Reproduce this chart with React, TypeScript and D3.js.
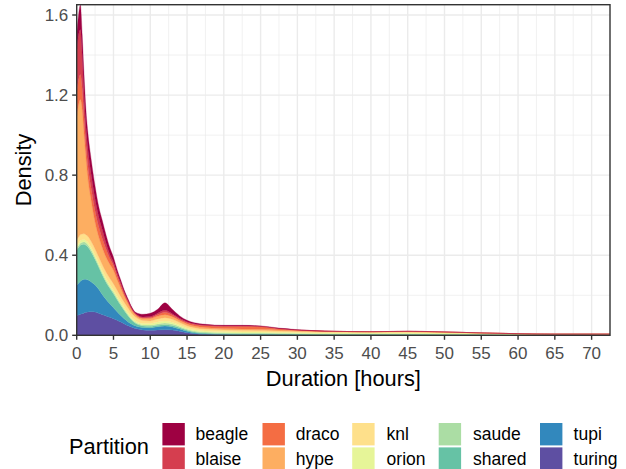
import * as d3 from "d3";

// Duration grid (hours) and densities per partition
const durations = [0, 0.25, 0.5, 0.75, 1, 1.25, 1.5, 2, 2.5, 3, 3.5, 4, 4.5, 5, 5.5, 6, 6.5, 7, 7.5, 8, 9, 10, 11, 12, 13, 14, 15, 16, 17.5, 20, 22.5, 25, 27.5, 30, 35, 40, 45, 50, 55, 60, 65, 70, 72.5];

const turing = [0.100, 0.102, 0.105, 0.108, 0.112, 0.115, 0.117, 0.118, 0.116, 0.110, 0.103, 0.097, 0.090, 0.083, 0.075, 0.066, 0.057, 0.048, 0.040, 0.034, 0.027, 0.025, 0.027, 0.028, 0.026, 0.020, 0.013, 0.008, 0.005, 0.003, 0.002, 0.002, 0.002, 0.002, 0.001, 0.001, 0.001, 0.001, 0.001, 0.001, 0.001, 0.001, 0.001];
const tupi = [0.150, 0.158, 0.165, 0.168, 0.168, 0.165, 0.160, 0.148, 0.135, 0.120, 0.100, 0.082, 0.068, 0.055, 0.043, 0.033, 0.025, 0.019, 0.015, 0.013, 0.012, 0.013, 0.016, 0.018, 0.016, 0.012, 0.007, 0.004, 0.003, 0.002, 0.002, 0.002, 0.002, 0.001, 0.001, 0.001, 0.001, 0.001, 0.001, 0.001, 0, 0, 0];
const shared = [0.175, 0.178, 0.180, 0.178, 0.175, 0.170, 0.165, 0.148, 0.128, 0.110, 0.097, 0.085, 0.077, 0.070, 0.060, 0.050, 0.040, 0.030, 0.020, 0.013, 0.008, 0.007, 0.007, 0.007, 0.007, 0.006, 0.005, 0.005, 0.004, 0.004, 0.004, 0.004, 0.003, 0.003, 0.003, 0.003, 0.003, 0.002, 0.002, 0.001, 0.001, 0.001, 0.001];
const saude = [0.010, 0.010, 0.011, 0.011, 0.012, 0.012, 0.012, 0.011, 0.010, 0.010, 0.009, 0.009, 0.008, 0.008, 0.007, 0.007, 0.006, 0.006, 0.005, 0.005, 0.005, 0.006, 0.007, 0.008, 0.007, 0.006, 0.005, 0.004, 0.004, 0.004, 0.003, 0.003, 0.003, 0.003, 0.003, 0.003, 0.003, 0.003, 0.002, 0.001, 0.001, 0.001, 0.001];
const orion = [0.012, 0.012, 0.012, 0.012, 0.012, 0.012, 0.012, 0.012, 0.012, 0.012, 0.012, 0.012, 0.012, 0.012, 0.012, 0.011, 0.011, 0.010, 0.009, 0.008, 0.008, 0.008, 0.009, 0.010, 0.009, 0.008, 0.007, 0.007, 0.006, 0.006, 0.006, 0.006, 0.005, 0.005, 0.005, 0.005, 0.005, 0.004, 0.003, 0.002, 0.002, 0.002, 0.002];
const knl = [0.030, 0.030, 0.030, 0.029, 0.028, 0.028, 0.029, 0.030, 0.030, 0.030, 0.030, 0.030, 0.030, 0.030, 0.028, 0.026, 0.024, 0.022, 0.020, 0.018, 0.014, 0.013, 0.015, 0.017, 0.015, 0.012, 0.011, 0.010, 0.009, 0.008, 0.008, 0.007, 0.006, 0.005, 0.004, 0.004, 0.004, 0.003, 0.002, 0.002, 0.001, 0.001, 0.001];
const hype = [0.620, 0.660, 0.675, 0.620, 0.500, 0.390, 0.300, 0.200, 0.135, 0.100, 0.085, 0.075, 0.070, 0.067, 0.053, 0.042, 0.030, 0.022, 0.015, 0.011, 0.010, 0.012, 0.014, 0.015, 0.013, 0.010, 0.009, 0.008, 0.008, 0.007, 0.006, 0.006, 0.005, 0.004, 0.002, 0.001, 0.002, 0.002, 0.001, 0, 0, 0, 0];
const draco = [0.120, 0.125, 0.125, 0.105, 0.080, 0.065, 0.060, 0.060, 0.055, 0.050, 0.045, 0.040, 0.030, 0.025, 0.020, 0.016, 0.012, 0.009, 0.006, 0.004, 0.004, 0.005, 0.008, 0.012, 0.008, 0.006, 0.007, 0.008, 0.009, 0.011, 0.014, 0.013, 0.007, 0.003, 0.001, 0, 0.001, 0.001, 0, 0, 0, 0, 0];
const blaise = [0.213, 0.225, 0.225, 0.170, 0.120, 0.090, 0.085, 0.070, 0.060, 0.050, 0.045, 0.030, 0.020, 0.015, 0.012, 0.010, 0.007, 0.006, 0.004, 0.003, 0.004, 0.005, 0.007, 0.010, 0.007, 0.005, 0.004, 0.004, 0.003, 0.002, 0.002, 0.002, 0.001, 0.001, 0, 0, 0, 0, 0, 0, 0, 0, 0];
const beagle = [0.070, 0.100, 0.122, 0.099, 0.093, 0.083, 0.080, 0.073, 0.064, 0.050, 0.045, 0.040, 0.033, 0.025, 0.018, 0.014, 0.010, 0.008, 0.006, 0.006, 0.013, 0.016, 0.020, 0.037, 0.022, 0.012, 0.007, 0.005, 0.004, 0.003, 0.003, 0.002, 0.002, 0.001, 0, 0, 0, 0, 0, 0, 0, 0, 0];

const partitions = ["beagle", "blaise", "draco", "hype", "knl", "orion", "saude", "shared", "tupi", "turing"];
const values: Record<string, number[]> = { beagle, blaise, draco, hype, knl, orion, saude, shared, tupi, turing };
const xTicks = [0, 5, 10, 15, 20, 25, 30, 35, 40, 45, 50, 55, 60, 65, 70];
const yTicks = [0, 0.4, 0.8, 1.2, 1.6];

const W = 626;
const H = 469;
const panel = { left: 76.7, right: 610, top: 4.7, bottom: 335.3 };
const font = "'Liberation Sans', Arial, Helvetica, sans-serif";

export default function App() {
  const x = d3.scaleLinear().domain([0, 72.5]).range([panel.left, panel.right]);
  const y = d3.scaleLinear().domain([0, 1.6515]).range([panel.bottom, panel.top]);
  const color = d3.scaleOrdinal<string, string>().domain(partitions).range(d3.schemeSpectral[10]);

  const rows = durations.map((d, i) => {
    const r: Record<string, number> = { d };
    partitions.forEach((p) => (r[p] = values[p][i]));
    return r;
  });
  // first level on top, like ggplot's position_stack
  const keys = partitions.slice().reverse();
  const series = d3.stack<Record<string, number>>().keys(keys)(rows);

  const area = d3
    .area<d3.SeriesPoint<Record<string, number>>>()
    .x((p) => x(p.data.d))
    .y0((p) => y(p[0]))
    .y1((p) => y(p[1]))
    .curve(d3.curveMonotoneX);

  const xMinor = d3.range(2.5, 72.5, 5);
  const yMinor = [0.2, 0.6, 1.0, 1.4];

  // legend layout
  const cols = [162.4, 262.5, 352.2, 438.7, 540];
  const labelX = [195.6, 295.8, 386.6, 473, 573.6];
  const rowY = [422, 446.4];
  const keyW = 22.4;
  const keyH = 22.4;

  return (
    <svg width={W} height={H} style={{ position: "absolute", left: 0, top: 0, background: "#fff" }} fontFamily={font}>
      <rect x={0} y={0} width={W} height={H} fill="#fff" />
      <g>
        {xMinor.map((v) => (
          <line key={"xm" + v} x1={x(v)} x2={x(v)} y1={panel.top} y2={panel.bottom} stroke="#EBEBEB" strokeWidth={0.7} />
        ))}
        {yMinor.map((v) => (
          <line key={"ym" + v} x1={panel.left} x2={panel.right} y1={y(v)} y2={y(v)} stroke="#EBEBEB" strokeWidth={0.7} />
        ))}
        {xTicks.map((v) => (
          <line key={"xg" + v} x1={x(v)} x2={x(v)} y1={panel.top} y2={panel.bottom} stroke="#EBEBEB" strokeWidth={1.4} />
        ))}
        {yTicks.map((v) => (
          <line key={"yg" + v} x1={panel.left} x2={panel.right} y1={y(v)} y2={y(v)} stroke="#EBEBEB" strokeWidth={1.4} />
        ))}
      </g>
      <g>
        {series.map((s) => (
          <path key={s.key} d={area(s) || ""} fill={color(s.key)} stroke={color(s.key)} strokeWidth={0.3} />
        ))}
      </g>
      <rect
        x={panel.left}
        y={panel.top}
        width={panel.right - panel.left}
        height={panel.bottom - panel.top}
        fill="none"
        stroke="#333333"
        strokeWidth={1.4}
      />
      <g fontSize={17} fill="#4D4D4D">
        {xTicks.map((v) => (
          <g key={"xt" + v}>
            <line x1={x(v)} x2={x(v)} y1={panel.bottom} y2={panel.bottom + 4.5} stroke="#333333" strokeWidth={1.4} />
            <text x={x(v)} y={358.5} textAnchor="middle">
              {v}
            </text>
          </g>
        ))}
        {yTicks.map((v) => (
          <g key={"yt" + v}>
            <line x1={panel.left - 4.5} x2={panel.left} y1={y(v)} y2={y(v)} stroke="#333333" strokeWidth={1.4} />
            <text x={68.3} y={y(v) + 6} textAnchor="end">
              {v.toFixed(1)}
            </text>
          </g>
        ))}
      </g>
      <text x={(panel.left + panel.right) / 2} y={385.5} fontSize={21.8} textAnchor="middle" fill="#000">
        Duration [hours]
      </text>
      <text transform={`translate(31,${(panel.top + panel.bottom) / 2}) rotate(-90)`} fontSize={21.8} textAnchor="middle" fill="#000">
        Density
      </text>
      <text x={69} y={453.8} fontSize={21.8} fill="#000">
        Partition
      </text>
      {partitions.map((p, i) => {
        const c = Math.floor(i / 2);
        const r = i % 2;
        return (
          <g key={"lg" + p}>
            <rect x={cols[c]} y={rowY[r] + 1} width={keyW} height={keyH} fill={color(p)} />
            <text x={labelX[c]} y={rowY[r] + 1 + keyH / 2 + 6.2} fontSize={17.5} fill="#000">
              {p}
            </text>
          </g>
        );
      })}
    </svg>
  );
}
